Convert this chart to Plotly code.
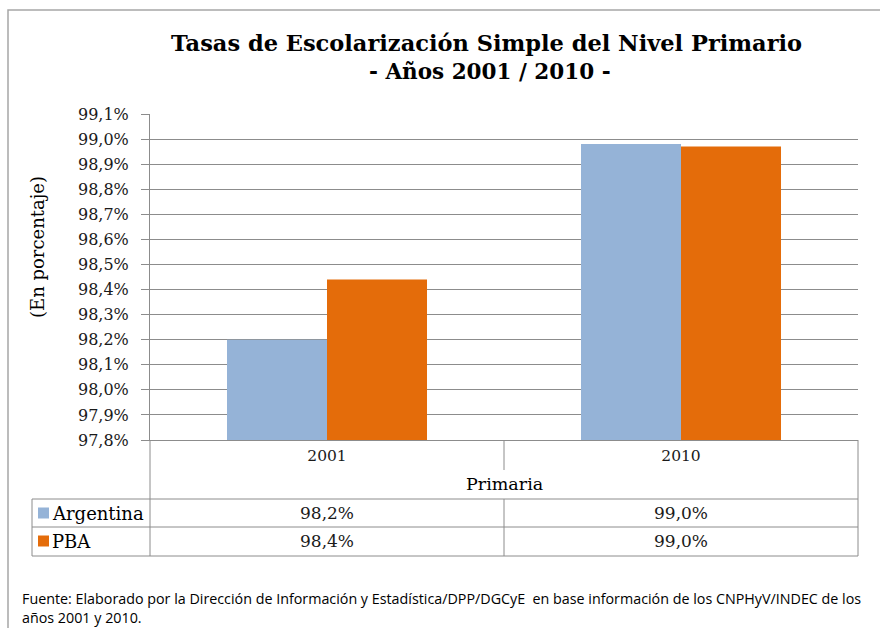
import plotly.graph_objects as go

# ---------------- data ----------------
categories = ["2001", "2010"]
series_names = ["Argentina", "PBA"]
argentina = [98.20, 98.98]
pba = [98.44, 98.97]
tick_values = [97.8, 97.9, 98.0, 98.1, 98.2, 98.3, 98.4, 98.5, 98.6, 98.7, 98.8, 98.9, 99.0, 99.1]
tick_labels = ["97,8%", "97,9%", "98,0%", "98,1%", "98,2%", "98,3%", "98,4%",
               "98,5%", "98,6%", "98,7%", "98,8%", "98,9%", "99,0%", "99,1%"]
title_line1 = "Tasas de Escolarización Simple del Nivel Primario"
title_line2 = "- Años 2001 / 2010 -"
y_title = "(En porcentaje)"
x_title = "Primaria"
source_line1 = ("Fuente: Elaborado por la Dirección de Información y Estadística/DPP/DGCyE  "
                "en base información de los CNPHyV/INDEC de los")
source_line2 = "años 2001 y 2010."

# ---------------- style ----------------
W, H = 880, 628
L, R, T, B = 150, 22, 114, 188
PW, PH = W - L - R, H - T - B
SERIF = "'DejaVu Serif', Georgia, serif"
SANS = "'Open Sans', 'Noto Sans', sans-serif"
COL_ARG = "#95B3D7"
COL_PBA = "#E46C0A"
GRID = "#8C8C8C"
TXT = "#1a1a1a"


def px(x):
    return (x - L) / PW


def py(y):
    return (H - B - y) / PH


def fmt(v):
    return f"{v:.1f}".replace(".", ",") + "%"


fig = go.Figure()
colors = [COL_ARG, COL_PBA]
for name, vals, col in zip(series_names, [argentina, pba], colors):
    fig.add_trace(go.Bar(x=categories, y=vals, name=name, marker_color=col,
                         marker_line_width=0, showlegend=False, hoverinfo="skip"))

shapes = []
line = dict(color=GRID, width=1)
# outer frame
shapes.append(dict(type="rect", xref="paper", yref="paper", x0=px(8), x1=px(890),
                   y0=py(640), y1=py(10), line=dict(color="#A6A6A6", width=1.5), layer="below"))
# data table lines
for yy in [499, 527, 556]:
    shapes.append(dict(type="line", xref="paper", yref="paper", x0=px(32), x1=1,
                       y0=py(yy), y1=py(yy), line=line))
shapes.append(dict(type="line", xref="paper", yref="paper", x0=px(32), x1=px(32),
                   y0=py(499), y1=py(556), line=line))
for xv in [0, 1]:
    shapes.append(dict(type="line", xref="paper", yref="paper", x0=xv, x1=xv,
                       y0=0, y1=py(556), line=line))
shapes.append(dict(type="line", xref="x", yref="paper", x0=0.5, x1=0.5,
                   y0=0, y1=py(470), line=line))
shapes.append(dict(type="line", xref="x", yref="paper", x0=0.5, x1=0.5,
                   y0=py(499), y1=py(556), line=line))
# legend keys
for i, col in enumerate(colors):
    yc = 513 + 28 * i
    shapes.append(dict(type="rect", xref="paper", yref="paper", x0=px(38), x1=px(49),
                       y0=py(yc + 5.5), y1=py(yc - 5.5), fillcolor=col, line=dict(width=0)))

ann = []
ann.append(dict(text=f"<b>{title_line1}</b>", xref="paper", yref="paper", x=px(486), y=py(43),
                xanchor="center", yanchor="middle", showarrow=False,
                font=dict(family=SERIF, size=22.5, color="#000000")))
ann.append(dict(text=f"<b>{title_line2}</b>", xref="paper", yref="paper", x=px(490), y=py(71),
                xanchor="center", yanchor="middle", showarrow=False,
                font=dict(family=SERIF, size=21.5, color="#000000")))
ann.append(dict(text=y_title, xref="paper", yref="paper", x=px(37), y=py(247),
                xanchor="center", yanchor="middle", textangle=-90, showarrow=False,
                font=dict(family=SERIF, size=18, color="#000000")))
ann.append(dict(text=x_title, xref="paper", yref="paper", x=px(504), y=py(484),
                xanchor="center", yanchor="middle", showarrow=False,
                font=dict(family=SERIF, size=17.5, color="#000000")))
for i, (name, vals) in enumerate(zip(series_names, [argentina, pba])):
    yc = 513 + 28 * i
    ann.append(dict(text=name, xref="paper", yref="paper", x=px(50), y=py(yc),
                    xanchor="left", yanchor="middle", showarrow=False,
                    font=dict(family=SERIF, size=18, color="#000000")))
    for ci, v in enumerate(vals):
        ann.append(dict(text=fmt(v), xref="x", yref="paper", x=ci, y=py(yc),
                        xanchor="center", yanchor="middle", showarrow=False,
                        font=dict(family=SERIF, size=17, color=TXT)))
ann.append(dict(text=source_line1, xref="paper", yref="paper", x=px(20), y=py(598),
                xanchor="left", yanchor="middle", showarrow=False,
                font=dict(family=SANS, size=14.3, color="#000000")))
ann.append(dict(text=source_line2, xref="paper", yref="paper", x=px(20), y=py(617),
                xanchor="left", yanchor="middle", showarrow=False,
                font=dict(family=SANS, size=14.3, color="#000000")))

fig.update_layout(
    width=W, height=H, autosize=False,
    margin=dict(l=L, r=R, t=T, b=B, pad=0),
    paper_bgcolor="white", plot_bgcolor="white",
    barmode="group", bargap=0.435, bargroupgap=0,
    separators=",.",
    shapes=shapes, annotations=ann,
    xaxis=dict(type="category", categoryorder="array", categoryarray=categories,
               range=[-0.5, 1.5], showline=True, linecolor=GRID, linewidth=1,
               ticks="", tickfont=dict(family=SERIF, size=15.5, color=TXT),
               ticklabelstandoff=1, showgrid=False, zeroline=False, fixedrange=True),
    yaxis=dict(range=[97.8, 99.1], tickmode="array", tickvals=tick_values, ticktext=tick_labels,
               showline=True, linecolor=GRID, linewidth=1, ticks="outside", ticklen=8,
               tickcolor=GRID, showgrid=True, gridcolor=GRID, gridwidth=1,
               tickfont=dict(family=SERIF, size=16, color=TXT), ticklabelstandoff=9,
               zeroline=False, fixedrange=True),
)

fig.write_html("out.html", config={"displayModeBar": False},
               post_script="document.body.style.margin='0';document.body.style.overflow='hidden';")
